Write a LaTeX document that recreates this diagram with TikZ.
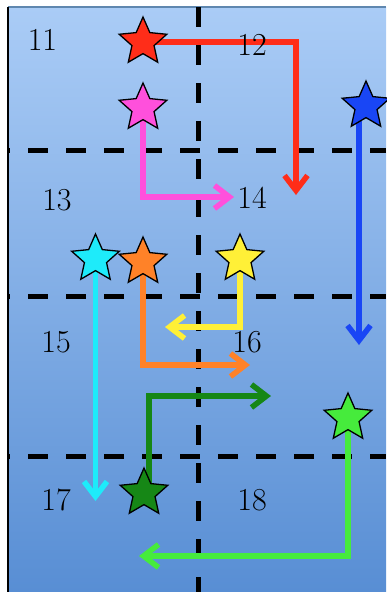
\documentclass[tikz,border=0pt]{standalone}
\usetikzlibrary{shapes.geometric,arrows.meta}
\pgfdeclarelayer{bg}
\pgfdeclarelayer{lines}
\pgfsetlayers{bg,lines,main}
\definecolor{bgtop}{RGB}{170,204,246}
\definecolor{bgbot}{RGB}{88,142,212}
\definecolor{edgetop}{RGB}{95,135,175}
\definecolor{cRed}{RGB}{255,45,25}
\definecolor{cMag}{RGB}{255,80,220}
\definecolor{cBlue}{RGB}{25,70,245}
\definecolor{cCyan}{RGB}{30,235,250}
\definecolor{cOrange}{RGB}{255,130,40}
\definecolor{cYellow}{RGB}{255,240,55}
\definecolor{cDkGreen}{RGB}{22,135,22}
\definecolor{cLtGreen}{RGB}{70,235,60}
\begin{document}
\begin{tikzpicture}[x=1pt,y=-1pt,
  gridline/.style={line width=5pt, dash pattern=on 20pt off 18pt},
  conn/.style={line width=5.5pt, -{Straight Barb[length=15pt,width=23pt]}},
  starnode/.style={star, star points=5, star point ratio=2.15, minimum size=50pt, inner sep=0pt, draw=black, line width=1.3pt},
  lbl/.style={font=\fontsize{32}{36}\selectfont, anchor=base, inner sep=0pt}]
\useasboundingbox (0,0) rectangle (386,592);
\begin{pgfonlayer}{bg}
  \fill[top color=bgtop, bottom color=bgbot] (8,7) rectangle (386,592);
  \draw[edgetop, line width=1.5pt] (8,7) -- (386,7);
  \draw[black, line width=2.5pt] (8,7) -- (8,592);
  \draw[gridline] (198,7) -- (198,592);
  \draw[gridline, dash phase=18pt] (8,150) -- (386,150);
  \draw[gridline, dash phase=18pt] (8,296) -- (386,296);
  \draw[gridline, dash phase=18pt] (8,456) -- (386,456);
\end{pgfonlayer}

\node[lbl] (t11) at (42.5,50) {11};
\node[lbl] (t12) at (252,55) {12};
\node[lbl] (t13) at (57,210) {13};
\node[lbl] (t14) at (252,208) {14};
\node[lbl] (t15) at (56,352) {15};
\node[lbl] (t16) at (247,352) {16};
\node[lbl] (t17) at (56,510) {17};
\node[lbl] (t18) at (252,510) {18};

\node[starnode, fill=cRed] (sRed) at (143,42) {};
\node[starnode, fill=cMag] (sMag) at (143,108) {};
\node[starnode, fill=cBlue] (sBlue) at (366,106) {};
\node[starnode, fill=cCyan] (sCyan) at (95.5,259) {};
\node[starnode, fill=cOrange] (sOrange) at (143,262) {};
\node[starnode, fill=cYellow] (sYellow) at (240,259) {};
\node[starnode, fill=cDkGreen] (sDkGreen) at (144,493) {};
\node[starnode, fill=cLtGreen] (sLtGreen) at (348,418) {};

\coordinate (eRed) at (296,195);
\coordinate (eMag) at (234,197);
\coordinate (eBlue) at (359,345);
\coordinate (eCyan) at (95.5,501);
\coordinate (eOrange) at (250,365);
\coordinate (eYellow) at (165,327);
\coordinate (cDkCorner) at (149,396);
\coordinate (eDkGreen) at (271,396);
\coordinate (eLtGreen) at (139,556);

\begin{pgfonlayer}{lines}
  \draw[conn, cRed] (sRed.center) -| (eRed);
  \draw[conn, cMag] (sMag.center) |- (eMag);
  \draw[conn, cBlue] (eBlue |- sBlue.center) -- (eBlue);
  \draw[conn, cCyan] (sCyan.center) -- (eCyan);
  \draw[conn, cOrange] (sOrange.center) |- (eOrange);
  \draw[conn, cYellow] (sYellow.center) |- (eYellow);
  \draw[conn, cDkGreen] (cDkCorner |- sDkGreen.center) -- (cDkCorner) -- (eDkGreen);
  \draw[conn, cLtGreen] (sLtGreen.center) |- (eLtGreen);
\end{pgfonlayer}
\end{tikzpicture}
\end{document}
